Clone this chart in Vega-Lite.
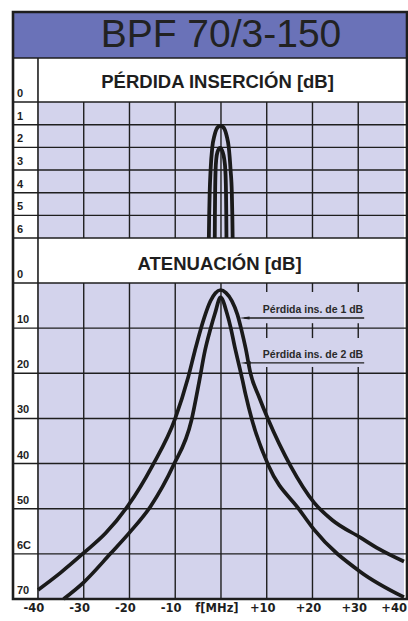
{
  "$schema": "https://vega.github.io/schema/vega-lite/v6.json",
  "width": 394,
  "height": 587,
  "autosize": {"type": "none"},
  "padding": {"left": 13, "top": 12, "right": 1, "bottom": 22},
  "background": "white",
  "config": {"view": {"stroke": null, "fill": "white"}, "text": {"font": "Liberation Sans"}},
  "datasets": {
    "ilCurves": [
      {"s": "1 dB", "f": -2.65, "il": 6.0}, {"s": "1 dB", "f": -2.58, "il": 5.0}, {"s": "1 dB", "f": -2.47, "il": 4.0},
      {"s": "1 dB", "f": -2.27, "il": 3.0}, {"s": "1 dB", "f": -1.9, "il": 2.0}, {"s": "1 dB", "f": -1.45, "il": 1.5},
      {"s": "1 dB", "f": -1.05, "il": 1.23}, {"s": "1 dB", "f": -0.6, "il": 1.09}, {"s": "1 dB", "f": -0.1, "il": 1.05},
      {"s": "1 dB", "f": 0.4, "il": 1.09}, {"s": "1 dB", "f": 0.85, "il": 1.23}, {"s": "1 dB", "f": 1.25, "il": 1.5},
      {"s": "1 dB", "f": 1.7, "il": 2.0}, {"s": "1 dB", "f": 2.1, "il": 3.0}, {"s": "1 dB", "f": 2.37, "il": 4.0},
      {"s": "1 dB", "f": 2.48, "il": 5.0}, {"s": "1 dB", "f": 2.55, "il": 6.0},
      {"s": "2 dB", "f": -1.36, "il": 6.0}, {"s": "2 dB", "f": -1.33, "il": 5.0}, {"s": "2 dB", "f": -1.28, "il": 4.0},
      {"s": "2 dB", "f": -1.18, "il": 3.0}, {"s": "2 dB", "f": -1.02, "il": 2.5}, {"s": "2 dB", "f": -0.75, "il": 2.2},
      {"s": "2 dB", "f": -0.2, "il": 2.03}, {"s": "2 dB", "f": 0.35, "il": 2.2}, {"s": "2 dB", "f": 0.7, "il": 2.5},
      {"s": "2 dB", "f": 0.95, "il": 3.0}, {"s": "2 dB", "f": 1.1, "il": 4.0}, {"s": "2 dB", "f": 1.16, "il": 5.0},
      {"s": "2 dB", "f": 1.2, "il": 6.0}
    ],
    "attCurves": [
      {"s": "1 dB", "f": -40, "a": 68}, {"s": "1 dB", "f": -35.1, "a": 64.2}, {"s": "1 dB", "f": -30, "a": 59.8},
      {"s": "1 dB", "f": -25.2, "a": 55.4}, {"s": "1 dB", "f": -20.3, "a": 49.3}, {"s": "1 dB", "f": -15, "a": 40.5},
      {"s": "1 dB", "f": -10, "a": 30}, {"s": "1 dB", "f": -7.2, "a": 21}, {"s": "1 dB", "f": -5.7, "a": 15},
      {"s": "1 dB", "f": -4.5, "a": 10.5}, {"s": "1 dB", "f": -3.4, "a": 6.9}, {"s": "1 dB", "f": -2.3, "a": 4.0},
      {"s": "1 dB", "f": -1.2, "a": 2.2}, {"s": "1 dB", "f": -0.1, "a": 1.55}, {"s": "1 dB", "f": 1.1, "a": 2.2},
      {"s": "1 dB", "f": 2.4, "a": 4.0}, {"s": "1 dB", "f": 3.6, "a": 7.0}, {"s": "1 dB", "f": 4.5, "a": 10.5},
      {"s": "1 dB", "f": 5.4, "a": 14.5}, {"s": "1 dB", "f": 6.45, "a": 20}, {"s": "1 dB", "f": 8.3, "a": 25.2},
      {"s": "1 dB", "f": 10.3, "a": 30.2}, {"s": "1 dB", "f": 15.2, "a": 40.5}, {"s": "1 dB", "f": 20.4, "a": 48.7},
      {"s": "1 dB", "f": 24.3, "a": 52.5}, {"s": "1 dB", "f": 30.5, "a": 56.4}, {"s": "1 dB", "f": 34.5, "a": 58.9},
      {"s": "1 dB", "f": 40, "a": 61.7},
      {"s": "2 dB", "f": -34.4, "a": 70}, {"s": "2 dB", "f": -30, "a": 66.3}, {"s": "2 dB", "f": -24.2, "a": 60},
      {"s": "2 dB", "f": -20, "a": 55.3}, {"s": "2 dB", "f": -15.4, "a": 49.5}, {"s": "2 dB", "f": -10.45, "a": 40.5},
      {"s": "2 dB", "f": -6.45, "a": 30.4}, {"s": "2 dB", "f": -4.7, "a": 21.5}, {"s": "2 dB", "f": -3.5, "a": 15},
      {"s": "2 dB", "f": -2.3, "a": 10.2}, {"s": "2 dB", "f": -1.3, "a": 6.7}, {"s": "2 dB", "f": -0.1, "a": 3.2},
      {"s": "2 dB", "f": 1.3, "a": 6.7}, {"s": "2 dB", "f": 2.2, "a": 10.2}, {"s": "2 dB", "f": 3.0, "a": 14.1},
      {"s": "2 dB", "f": 3.9, "a": 18}, {"s": "2 dB", "f": 4.7, "a": 21.5}, {"s": "2 dB", "f": 5.4, "a": 24.8},
      {"s": "2 dB", "f": 6.8, "a": 30.4}, {"s": "2 dB", "f": 10.4, "a": 40.5}, {"s": "2 dB", "f": 17.2, "a": 50.3},
      {"s": "2 dB", "f": 20.4, "a": 54.7}, {"s": "2 dB", "f": 30.5, "a": 64}, {"s": "2 dB", "f": 40, "a": 69.6}
    ],
    "ilH": [{"v": -1.941}, {"v": 0}, {"v": 1}, {"v": 2}, {"v": 3}, {"v": 4}, {"v": 5}, {"v": 6}],
    "ilV": [{"f": -30}, {"f": -20}, {"f": -10}, {"f": 0}, {"f": 10}, {"f": 20}, {"f": 30}],
    "ilLabels": [{"v": 0, "t": "0"}, {"v": 1, "t": "1"}, {"v": 2, "t": "2"}, {"v": 3, "t": "3"}, {"v": 4, "t": "4"}, {"v": 5, "t": "5"}, {"v": 6, "t": "6"}],
    "attH": [{"v": 0}, {"v": 10}, {"v": 20}, {"v": 30}, {"v": 40}, {"v": 50}, {"v": 60}, {"v": 70}],
    "attV": [
      {"f": -30, "a0": 0, "a1": 70}, {"f": -20, "a0": 0, "a1": 70}, {"f": -10, "a0": 0, "a1": 70}, {"f": 0, "a0": 0, "a1": 70},
      {"f": 10, "a0": 0, "a1": 2}, {"f": 10, "a0": 8.9, "a1": 12.2}, {"f": 10, "a0": 18.6, "a1": 70},
      {"f": 20, "a0": 0, "a1": 2}, {"f": 20, "a0": 8.9, "a1": 12.2}, {"f": 20, "a0": 18.6, "a1": 70},
      {"f": 30, "a0": 0, "a1": 2}, {"f": 30, "a0": 8.9, "a1": 12.2}, {"f": 30, "a0": 18.6, "a1": 70}
    ],
    "attLabels": [{"v": 0, "t": "0"}, {"v": 10, "t": "10"}, {"v": 20, "t": "20"}, {"v": 30, "t": "30"}, {"v": 40, "t": "40"}, {"v": 50, "t": "50"}, {"v": 60, "t": "6C"}, {"v": 70, "t": "70"}],
    "annot": [
      {"t": "Pérdida ins. de 1 dB", "a": 7.75, "f0": 5.1, "f1": 31.3},
      {"t": "Pérdida ins. de 2 dB", "a": 17.7, "f0": 5.35, "f1": 31.3}
    ],
    "xLabels": [
      {"f": -40, "t": "-40"}, {"f": -30, "t": "-30"}, {"f": -20, "t": "-20"}, {"f": -10, "t": "-10"}, {"f": 0, "t": "f[MHz]"},
      {"f": 10, "t": "+10"}, {"f": 20, "t": "+20"}, {"f": 30, "t": "+30"}, {"f": 40, "t": "+40"}
    ]
  },
  "resolve": {"scale": {"y": "independent"}},
  "layer": [
    {
      "layer": [
        {
          "data": {"values": [{"y0": -3.971, "y1": -1.941}]},
          "mark": {"type": "rect", "fill": "#6a72b8"},
          "encoding": {
            "y": {"field": "y0", "type": "quantitative", "scale": {"domain": [-3.971, 21.926], "reverse": true, "nice": false, "zero": false}, "axis": null},
            "y2": {"field": "y1"}
          }
        },
        {
          "data": {"values": [{"f0": -40, "f1": 40, "y0": 0, "y1": 6}]},
          "mark": {"type": "rect", "fill": "#d3d3ec"},
          "encoding": {
            "x": {"field": "f0", "type": "quantitative", "scale": {"domain": [-45.46, 40.66], "nice": false, "zero": false}, "axis": null},
            "x2": {"field": "f1"},
            "y": {"field": "y0", "type": "quantitative", "scale": {"domain": [-3.971, 21.926], "reverse": true, "nice": false, "zero": false}, "axis": null},
            "y2": {"field": "y1"}
          }
        }
      ]
    },
    {
      "layer": [
        {
          "data": {"values": [{"f0": -40, "f1": 40, "y0": 0, "y1": 70}]},
          "mark": {"type": "rect", "fill": "#d3d3ec"},
          "encoding": {
            "x": {"field": "f0", "type": "quantitative", "scale": {"domain": [-45.46, 40.66], "nice": false, "zero": false}, "axis": null},
            "x2": {"field": "f1"},
            "y": {"field": "y0", "type": "quantitative", "scale": {"domain": [-60.03, 70], "reverse": true, "nice": false, "zero": false}, "axis": null},
            "y2": {"field": "y1"}
          }
        },
        {
          "data": {"name": "attH"},
          "mark": {"type": "rule", "stroke": "#1e1e1e", "strokeWidth": 1.4},
          "encoding": {
            "y": {"field": "v", "type": "quantitative", "scale": {"domain": [-60.03, 70], "reverse": true, "nice": false, "zero": false}, "axis": null}
          }
        },
        {
          "data": {"name": "attV"},
          "mark": {"type": "rule", "stroke": "#1e1e1e", "strokeWidth": 1.4},
          "encoding": {
            "x": {"field": "f", "type": "quantitative", "scale": {"domain": [-45.46, 40.66], "nice": false, "zero": false}, "axis": null},
            "y": {"field": "a0", "type": "quantitative", "scale": {"domain": [-60.03, 70], "reverse": true, "nice": false, "zero": false}, "axis": null},
            "y2": {"field": "a1"}
          }
        },
        {
          "data": {"name": "attCurves"},
          "mark": {"type": "line", "stroke": "#1a1a1a", "strokeWidth": 3.7, "interpolate": "monotone"},
          "encoding": {
            "x": {"field": "f", "type": "quantitative", "scale": {"domain": [-45.46, 40.66], "nice": false, "zero": false}, "axis": null},
            "y": {"field": "a", "type": "quantitative", "scale": {"domain": [-60.03, 70], "reverse": true, "nice": false, "zero": false}, "axis": null},
            "detail": {"field": "s"}
          }
        },
        {
          "data": {"name": "annot"},
          "mark": {"type": "rule", "stroke": "#1e1e1e", "strokeWidth": 1.4},
          "encoding": {
            "x": {"field": "f0", "type": "quantitative", "scale": {"domain": [-45.46, 40.66], "nice": false, "zero": false}, "axis": null},
            "x2": {"field": "f1"},
            "y": {"field": "a", "type": "quantitative", "scale": {"domain": [-60.03, 70], "reverse": true, "nice": false, "zero": false}, "axis": null}
          }
        },
        {
          "data": {"name": "annot"},
          "mark": {"type": "point", "shape": "M-1,0L1,-0.3L1,0.3Z", "filled": true, "fill": "#1e1e1e", "opacity": 1, "size": 110},
          "encoding": {
            "x": {"field": "f0", "type": "quantitative", "scale": {"domain": [-45.46, 40.66], "nice": false, "zero": false}, "axis": null},
            "y": {"field": "a", "type": "quantitative", "scale": {"domain": [-60.03, 70], "reverse": true, "nice": false, "zero": false}, "axis": null}
          }
        },
        {
          "data": {"name": "annot"},
          "mark": {"type": "text", "align": "right", "baseline": "alphabetic", "dy": -5, "dx": -1, "fontSize": 10.5, "fontWeight": "bold", "fill": "#2a2a2a"},
          "encoding": {
            "x": {"field": "f1", "type": "quantitative", "scale": {"domain": [-45.46, 40.66], "nice": false, "zero": false}, "axis": null},
            "y": {"field": "a", "type": "quantitative", "scale": {"domain": [-60.03, 70], "reverse": true, "nice": false, "zero": false}, "axis": null},
            "text": {"field": "t"}
          }
        },
        {
          "data": {"name": "attLabels"},
          "mark": {"type": "text", "align": "left", "baseline": "alphabetic", "dy": -5, "fontSize": 11, "fontWeight": "bold", "fill": "#1e1e1e"},
          "encoding": {
            "x": {"datum": -44.6, "type": "quantitative", "scale": {"domain": [-45.46, 40.66], "nice": false, "zero": false}, "axis": null},
            "y": {"field": "v", "type": "quantitative", "scale": {"domain": [-60.03, 70], "reverse": true, "nice": false, "zero": false}, "axis": null},
            "text": {"field": "t"}
          }
        },
        {
          "data": {"values": [{"t": "ATENUACIÓN  [dB]"}]},
          "mark": {"type": "text", "align": "center", "baseline": "middle", "fontSize": 18.5, "fontWeight": "bold", "fill": "#1e1e1e"},
          "encoding": {
            "x": {"datum": -0.3, "type": "quantitative", "scale": {"domain": [-45.46, 40.66], "nice": false, "zero": false}, "axis": null},
            "y": {"datum": -4.2, "type": "quantitative", "scale": {"domain": [-60.03, 70], "reverse": true, "nice": false, "zero": false}, "axis": null},
            "text": {"field": "t"}
          }
        },
        {
          "data": {"name": "xLabels"},
          "transform": [{"filter": "datum.f < 40"}],
          "mark": {"type": "text", "align": "center", "baseline": "middle", "dy": 10, "dx": -4, "font": "DejaVu Sans", "fontSize": 11.5, "fontWeight": "bold", "fill": "#1e1e1e"},
          "encoding": {
            "x": {"field": "f", "type": "quantitative", "scale": {"domain": [-45.46, 40.66], "nice": false, "zero": false}, "axis": null},
            "y": {"datum": 70, "type": "quantitative", "scale": {"domain": [-60.03, 70], "reverse": true, "nice": false, "zero": false}, "axis": null},
            "text": {"field": "t"}
          }
        },
        {
          "data": {"name": "xLabels"},
          "transform": [{"filter": "datum.f >= 40"}],
          "mark": {"type": "text", "align": "right", "baseline": "middle", "dy": 10, "dx": 3, "font": "DejaVu Sans", "fontSize": 11.5, "fontWeight": "bold", "fill": "#1e1e1e"},
          "encoding": {
            "x": {"field": "f", "type": "quantitative", "scale": {"domain": [-45.46, 40.66], "nice": false, "zero": false}, "axis": null},
            "y": {"datum": 70, "type": "quantitative", "scale": {"domain": [-60.03, 70], "reverse": true, "nice": false, "zero": false}, "axis": null},
            "text": {"field": "t"}
          }
        }
      ]
    },
    {
      "layer": [
        {
          "data": {"name": "ilH"},
          "mark": {"type": "rule", "stroke": "#1e1e1e", "strokeWidth": 1.4},
          "encoding": {
            "y": {"field": "v", "type": "quantitative", "scale": {"domain": [-3.971, 21.926], "reverse": true, "nice": false, "zero": false}, "axis": null}
          }
        },
        {
          "data": {"name": "ilV"},
          "mark": {"type": "rule", "stroke": "#1e1e1e", "strokeWidth": 1.4},
          "encoding": {
            "x": {"field": "f", "type": "quantitative", "scale": {"domain": [-45.46, 40.66], "nice": false, "zero": false}, "axis": null},
            "y": {"datum": 0, "type": "quantitative", "scale": {"domain": [-3.971, 21.926], "reverse": true, "nice": false, "zero": false}, "axis": null},
            "y2": {"datum": 6}
          }
        },
        {
          "data": {"values": [{"f": -40}]},
          "mark": {"type": "rule", "stroke": "#1e1e1e", "strokeWidth": 1.6},
          "encoding": {
            "x": {"field": "f", "type": "quantitative", "scale": {"domain": [-45.46, 40.66], "nice": false, "zero": false}, "axis": null},
            "y": {"datum": -1.941, "type": "quantitative", "scale": {"domain": [-3.971, 21.926], "reverse": true, "nice": false, "zero": false}, "axis": null},
            "y2": {"datum": 21.926}
          }
        },
        {
          "data": {"name": "ilCurves"},
          "mark": {"type": "line", "stroke": "#1a1a1a", "strokeWidth": 3.8, "interpolate": "monotone"},
          "encoding": {
            "x": {"field": "f", "type": "quantitative", "scale": {"domain": [-45.46, 40.66], "nice": false, "zero": false}, "axis": null},
            "y": {"field": "il", "type": "quantitative", "scale": {"domain": [-3.971, 21.926], "reverse": true, "nice": false, "zero": false}, "axis": null},
            "detail": {"field": "s"}
          }
        },
        {
          "data": {"name": "ilLabels"},
          "mark": {"type": "text", "align": "left", "baseline": "alphabetic", "dy": -5, "fontSize": 11, "fontWeight": "bold", "fill": "#1e1e1e"},
          "encoding": {
            "x": {"datum": -44.6, "type": "quantitative", "scale": {"domain": [-45.46, 40.66], "nice": false, "zero": false}, "axis": null},
            "y": {"field": "v", "type": "quantitative", "scale": {"domain": [-3.971, 21.926], "reverse": true, "nice": false, "zero": false}, "axis": null},
            "text": {"field": "t"}
          }
        },
        {
          "data": {"values": [{"t": "BPF 70/3-150"}]},
          "mark": {"type": "text", "align": "center", "baseline": "middle", "fontSize": 39, "fill": "#222222"},
          "encoding": {
            "x": {"datum": 0, "type": "quantitative", "scale": {"domain": [-45.46, 40.66], "nice": false, "zero": false}, "axis": null},
            "y": {"datum": -2.956, "type": "quantitative", "scale": {"domain": [-3.971, 21.926], "reverse": true, "nice": false, "zero": false}, "axis": null},
            "text": {"field": "t"}
          }
        },
        {
          "data": {"values": [{"t": "PÉRDIDA INSERCIÓN  [dB]"}]},
          "mark": {"type": "text", "align": "center", "baseline": "middle", "fontSize": 18.5, "fontWeight": "bold", "fill": "#1e1e1e"},
          "encoding": {
            "x": {"datum": -0.75, "type": "quantitative", "scale": {"domain": [-45.46, 40.66], "nice": false, "zero": false}, "axis": null},
            "y": {"datum": -0.88, "type": "quantitative", "scale": {"domain": [-3.971, 21.926], "reverse": true, "nice": false, "zero": false}, "axis": null},
            "text": {"field": "t"}
          }
        },
        {
          "data": {"values": [{}]},
          "mark": {"type": "rect", "filled": false, "stroke": "#1e1e1e", "strokeWidth": 2.6},
          "encoding": {}
        }
      ]
    }
  ]
}
